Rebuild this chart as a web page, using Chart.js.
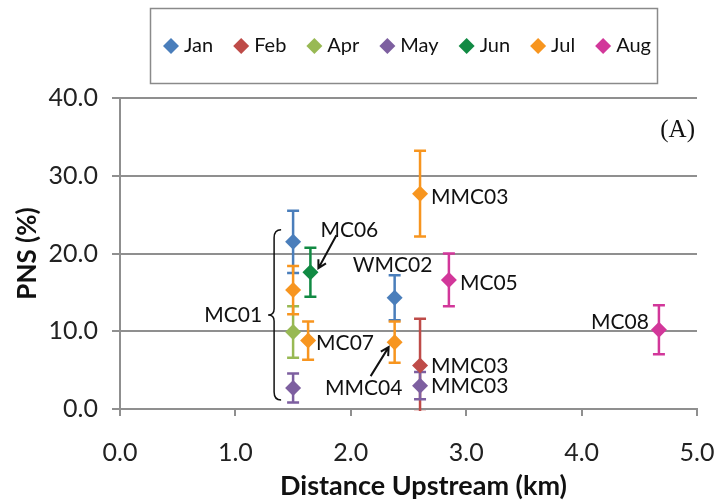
<!DOCTYPE html>
<html>
<head>
<meta charset="utf-8">
<script src="https://cdn.jsdelivr.net/npm/chart.js@4.4.0/dist/chart.umd.min.js"></script>
<style>
  html, body { margin: 0; padding: 0; background: #fff; }
  #wrap { width: 719px; height: 504px; }
</style>
</head>
<body>
<div id="wrap"><canvas id="pnsChart"></canvas></div>
<script>
const months = ['Jan', 'Feb', 'Apr', 'May', 'Jun', 'Jul', 'Aug'];
const monthColors = ['#4a7ebb', '#be4b48', '#98b954', '#7d5fa0', '#118a43', '#f7951f', '#d2379a'];

// distance upstream (km), PNS (%), error (+/-)
const janDist = [1.50, 2.38];
const janPns = [21.5, 14.3];
const janErr = [4.0, 2.9];

const febDist = [2.60];
const febPns = [5.6];
const febErr = [6.0];

const aprDist = [1.50];
const aprPns = [9.9];
const aprErr = [3.3];

const mayDist = [1.50, 2.60];
const mayPns = [2.7, 3.0];
const mayErr = [1.85, 1.75];

const junDist = [1.65];
const junPns = [17.6];
const junErr = [3.15];

const julDist = [1.50, 1.63, 2.38, 2.60];
const julPns = [15.3, 8.8, 8.6, 27.7];
const julErr = [3.1, 2.45, 2.65, 5.5];

const augDist = [2.85, 4.67];
const augPns = [16.6, 10.2];
const augErr = [3.4, 3.15];

const xTicks = [0, 1, 2, 3, 4, 5];
const yTicks = [0, 10, 20, 30, 40];

const FONT = 'Lato, "Open Sans", sans-serif';
const GRID = '#8f8f8f';

// site labels next to points (month, point index, text, pixel offset)
const siteLabels = [
  { m: 'Jun', i: 0, text: 'MC06', dx: 10, dy: -42, align: 'left' },
  { m: 'Jan', i: 1, text: 'WMC02', dx: -2, dy: -33, align: 'center' },
  { m: 'Jul', i: 3, text: 'MMC03', dx: 11, dy: 4, align: 'left' },
  { m: 'Aug', i: 0, text: 'MC05', dx: 11, dy: 3, align: 'left' },
  { m: 'Aug', i: 1, text: 'MC08', dx: -10, dy: -7, align: 'right' },
  { m: 'Feb', i: 0, text: 'MMC03', dx: 11, dy: 1, align: 'left' },
  { m: 'May', i: 1, text: 'MMC03', dx: 11, dy: 1, align: 'left' },
  { m: 'Jul', i: 1, text: 'MC07', dx: 8, dy: 3, align: 'left' },
  { m: 'Jul', i: 2, text: 'MMC04', dx: -31, dy: 46, align: 'center' }
];
const arrows = [
  { m: 'Jun', i: 0, tail: [26, -37], head: [8, -4] },
  { m: 'Jul', i: 2, tail: [-24, 34], head: [-6, 5] }
];

function series(label, color, xs, ys, errs) {
  return {
    label,
    data: xs.map((x, k) => ({ x, y: ys[k], err: errs[k] })),
    backgroundColor: color,
    borderColor: color,
    pointStyle: 'rectRot',
    pointRadius: 8,
    pointHoverRadius: 8,
    pointBorderWidth: 0,
    showLine: false
  };
}

const datasets = [
  series('Jan', monthColors[0], janDist, janPns, janErr),
  series('Feb', monthColors[1], febDist, febPns, febErr),
  series('Apr', monthColors[2], aprDist, aprPns, aprErr),
  series('May', monthColors[3], mayDist, mayPns, mayErr),
  series('Jun', monthColors[4], junDist, junPns, junErr),
  series('Jul', monthColors[5], julDist, julPns, julErr),
  series('Aug', monthColors[6], augDist, augPns, augErr)
];

function pointPos(chart, m, i) {
  const ds = months.indexOf(m);
  const p = chart.data.datasets[ds].data[i];
  return [chart.scales.x.getPixelForValue(p.x), chart.scales.y.getPixelForValue(p.y)];
}

const errorBars = {
  id: 'errorBars',
  beforeDatasetsDraw(chart) {
    const { ctx, scales: { x, y }, chartArea } = chart;
    ctx.save();
    ctx.beginPath();
    ctx.rect(chartArea.left, chartArea.top - 20, chartArea.width, chartArea.height + 22);
    ctx.clip();
    chart.data.datasets.forEach(ds => {
      ctx.strokeStyle = ds.borderColor;
      ctx.lineWidth = 2.5;
      ds.data.forEach(p => {
        const px = x.getPixelForValue(p.x);
        const top = y.getPixelForValue(p.y + p.err);
        const bot = y.getPixelForValue(p.y - p.err);
        ctx.beginPath();
        ctx.moveTo(px, top); ctx.lineTo(px, bot);
        ctx.moveTo(px - 6, top); ctx.lineTo(px + 6, top);
        ctx.moveTo(px - 6, bot); ctx.lineTo(px + 6, bot);
        ctx.stroke();
      });
    });
    ctx.restore();
  }
};

const notes = {
  id: 'notes',
  afterDraw(chart) {
    const { ctx, chartArea } = chart;
    ctx.save();
    ctx.fillStyle = '#111';
    ctx.font = '21px ' + FONT;
    ctx.textBaseline = 'middle';
    siteLabels.forEach(l => {
      const [px, py] = pointPos(chart, l.m, l.i);
      ctx.textAlign = l.align;
      ctx.fillText(l.text, px + l.dx, py + l.dy);
    });

    // arrows
    ctx.strokeStyle = '#111';
    ctx.lineWidth = 2;
    arrows.forEach(a => {
      const [px, py] = pointPos(chart, a.m, a.i);
      const x1 = px + a.tail[0], y1 = py + a.tail[1];
      const x2 = px + a.head[0], y2 = py + a.head[1];
      const ang = Math.atan2(y2 - y1, x2 - x1);
      ctx.beginPath();
      ctx.moveTo(x1, y1); ctx.lineTo(x2, y2);
      ctx.moveTo(x2 - 9 * Math.cos(ang - 0.5), y2 - 9 * Math.sin(ang - 0.5));
      ctx.lineTo(x2, y2);
      ctx.lineTo(x2 - 9 * Math.cos(ang + 0.5), y2 - 9 * Math.sin(ang + 0.5));
      ctx.stroke();
    });

    // brace grouping the MC01 points
    const [bx, topY] = pointPos(chart, 'Jan', 0);
    const [, botY] = pointPos(chart, 'May', 0);
    const y0 = topY - 12, y1 = botY + 12, ym = (y0 + y1) / 2;
    const xl = bx - 25, xr = bx - 12, xc = bx - 19;
    ctx.lineWidth = 1.5;
    ctx.beginPath();
    ctx.moveTo(xr, y0);
    ctx.quadraticCurveTo(xc, y0, xc, y0 + 8);
    ctx.lineTo(xc, ym - 6);
    ctx.quadraticCurveTo(xc, ym, xl, ym);
    ctx.quadraticCurveTo(xc, ym, xc, ym + 6);
    ctx.lineTo(xc, y1 - 8);
    ctx.quadraticCurveTo(xc, y1, xr, y1);
    ctx.stroke();
    ctx.textAlign = 'right';
    ctx.fillText('MC01', xl - 6, ym);

    // x axis title (sits a little right of centre in the original)
    ctx.font = 'bold 27px ' + FONT;
    ctx.textAlign = 'center';
    ctx.fillText('Distance Upstream (km)', (chartArea.left + chartArea.right) / 2 + 15, 486);

    // panel tag
    ctx.font = '25px "Liberation Serif", serif';
    ctx.textAlign = 'right';
    ctx.fillText('(A)', chartArea.right - 2, chartArea.top + 32);

    // legend
    ctx.strokeStyle = '#8a8a8a';
    ctx.lineWidth = 1.5;
    ctx.strokeRect(150.5, 8.5, 507, 75);
    ctx.font = '20px ' + FONT;
    ctx.textAlign = 'left';
    const gap = 20, mark = 16, after = 5;
    const widths = chart.data.datasets.map(d => mark + after + ctx.measureText(d.label).width);
    const total = widths.reduce((a, b) => a + b, 0) + gap * (widths.length - 1);
    let lx = 407 - total / 2;
    const ly = 46;
    chart.data.datasets.forEach((d, k) => {
      ctx.fillStyle = d.backgroundColor;
      ctx.beginPath();
      ctx.moveTo(lx, ly); ctx.lineTo(lx + mark / 2, ly - mark / 2);
      ctx.lineTo(lx + mark, ly); ctx.lineTo(lx + mark / 2, ly + mark / 2);
      ctx.closePath();
      ctx.fill();
      ctx.fillStyle = '#111';
      ctx.fillText(d.label, lx + mark + after, ly);
      lx += widths[k] + gap;
    });
    ctx.restore();
  }
};

new Chart(document.getElementById('pnsChart'), {
  type: 'scatter',
  data: { datasets },
  plugins: [errorBars, notes],
  options: {
    responsive: true,
    maintainAspectRatio: false,
    animation: false,
    layout: { padding: { top: 98, right: 22, left: 0, bottom: 0 } },
    plugins: {
      legend: { display: false },
      tooltip: { enabled: false }
    },
    scales: {
      x: {
        type: 'linear',
        min: 0,
        max: 5,
        afterBuildTicks: s => { s.ticks = xTicks.map(v => ({ value: v })); },
        afterFit: s => { s.height = 95; s.paddingLeft = 0; s.paddingRight = 0; },
        ticks: {
          color: '#222',
          font: { family: FONT, size: 25 },
          padding: 22,
          callback: v => v.toFixed(1)
        },
        grid: { drawOnChartArea: false, drawTicks: true, tickLength: 7, color: GRID, lineWidth: 2 },
        border: { color: GRID, width: 2 },
        title: { display: false }
      },
      y: {
        min: 0,
        max: 40,
        afterBuildTicks: s => { s.ticks = yTicks.map(v => ({ value: v })); },
        afterFit: s => { s.width = 120; },
        ticks: {
          color: '#222',
          font: { family: FONT, size: 25 },
          padding: 14,
          callback: v => v.toFixed(1)
        },
        grid: { color: GRID, lineWidth: 2, tickLength: 8 },
        border: { color: GRID, width: 2 },
        title: {
          display: true,
          text: 'PNS (%)',
          color: '#111',
          font: { family: FONT, size: 26, weight: 'bold' },
          padding: { top: 12, bottom: 0 }
        }
      }
    }
  }
});
</script>
</body>
</html>
